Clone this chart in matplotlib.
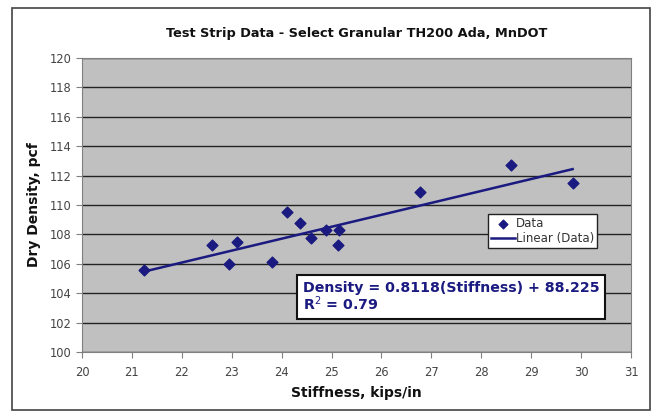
import matplotlib
matplotlib.use("Agg")
import matplotlib.pyplot as plt
from matplotlib.patches import Rectangle

stiffness = [21.25, 22.6, 22.95, 23.1, 23.8, 24.1, 24.37, 24.59, 24.89, 25.14, 25.12, 26.77, 28.6, 29.83]
density = [105.6, 107.3, 106.0, 107.5, 106.15, 109.5, 108.78, 107.78, 108.28, 108.28, 107.26, 110.9, 112.72, 111.52]
slope = 0.8118
intercept = 88.225
x_ticks = list(range(20, 32))
y_ticks = list(range(100, 122, 2))

navy = "#1a1a80"
fig = plt.figure(figsize=(6.55, 4.13), dpi=100)
fig.patch.set_facecolor("white")
# outer chart border
fig.add_artist(Rectangle((12/655, 1-410/413), 638/655, 402/413, transform=fig.transFigure,
                         fill=False, edgecolor="#444444", linewidth=1.2))

ax = fig.add_axes([82/655, 1-352/413, 549/655, 294/413])
ax.set_facecolor("#c0c0c0")
ax.set_xlim(20, 31)
ax.set_ylim(100, 120)
ax.set_xticks(x_ticks)
ax.set_yticks(y_ticks)
ax.grid(axis="y", color="#222222", linewidth=1.0)
ax.set_axisbelow(True)
for s in ax.spines.values():
    s.set_color("#808080")
ax.tick_params(axis="both", colors="#808080", labelcolor="#444444", labelsize=8.3, length=4)
ax.tick_params(axis="x", pad=6)

ax.scatter(stiffness, density, marker="D", s=30, color=navy, zorder=3, label="Data")
xmin, xmax = min(stiffness), max(stiffness)
ax.plot([xmin, xmax], [slope*xmin + intercept, slope*xmax + intercept], color=navy,
        linewidth=1.8, zorder=2, label="Linear (Data)")

ax.set_title("Test Strip Data - Select Granular TH200 Ada, MnDOT", fontsize=9.3, fontweight="bold",
             color="#111111", pad=15)
ax.set_xlabel("Stiffness, kips/in", fontsize=10, fontweight="bold", color="#111111", labelpad=5)
ax.set_ylabel("Dry Density, pcf", fontsize=10, fontweight="bold", color="#111111", labelpad=6)

leg = ax.legend(loc="upper left", bbox_to_anchor=((488-82)/549, (352-214)/294), fontsize=8.5,
                frameon=True, fancybox=False, edgecolor="#222222", facecolor="white",
                framealpha=1, borderpad=0.25, handlelength=2.0, handletextpad=0.1,
                labelspacing=0.2, borderaxespad=0, markerscale=0.8)
leg.get_frame().set_linewidth(1.0)
for t in leg.get_texts():
    t.set_color("#333333")

ax.text((303-82)/549, (352-297)/294,
        "Density = %.4f(Stiffness) + %.3f\nR$^2$ = 0.79" % (slope, intercept),
        transform=ax.transAxes, fontsize=10.2, fontweight="bold", color=navy, va="center", ha="left",
        linespacing=1.0, zorder=5,
        bbox=dict(boxstyle="square,pad=0.4", facecolor="white", edgecolor="#111111", linewidth=1.5))

fig.savefig("out.png", dpi=100, facecolor=fig.get_facecolor())
